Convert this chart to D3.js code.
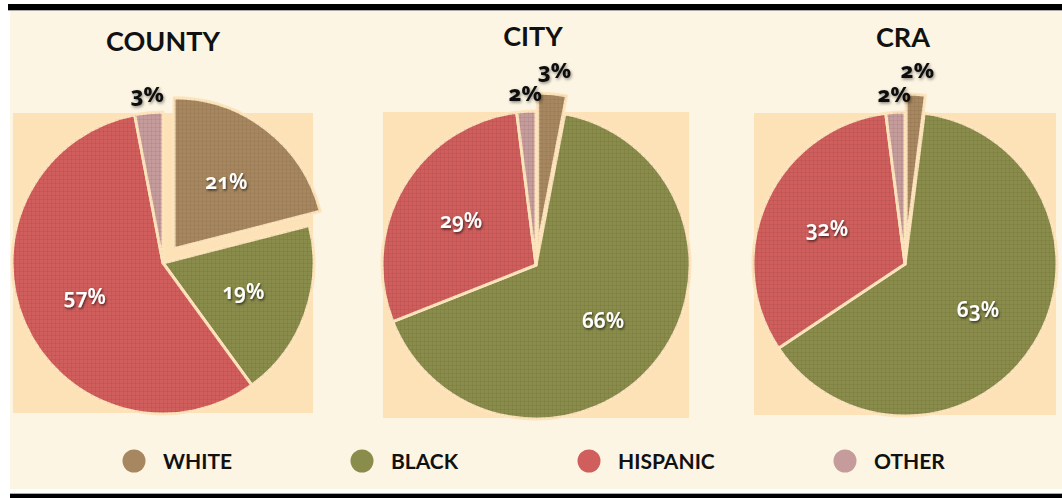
<!DOCTYPE html>
<html>
<head>
<meta charset="utf-8">
<script src="https://cdn.jsdelivr.net/npm/d3@7"></script>
<style>
  body { margin: 0; background: #fff; }
  svg { display: block; }
  .num { font-family: "Noto Sans", "Open Sans", sans-serif; font-variant-numeric: oldstyle-nums; font-feature-settings: "onum"; }
</style>
</head>
<body>
<div id="chart"></div>
<script>
// data
var groups = ["COUNTY", "CITY", "CRA"];
var categories = ["WHITE", "BLACK", "HISPANIC", "OTHER"];
var countyValues = [21, 19, 57, 3];
var cityValues = [3, 66, 29, 2];
var craValues = [2, 63, 32, 2];
var colors = ["#A7875F", "#8A8C4B", "#CF5E5C", "#C59B9B"];

var width = 1062, height = 498;

// layout of each pie
var pies = [
	{ title: groups[0], values: countyValues, cx: 163, cy: 263, r: 151, titleX: 163, titleY: 51 },
	{ title: groups[1], values: cityValues,   cx: 536, cy: 265, r: 154, titleX: 533, titleY: 46 },
	{ title: groups[2], values: craValues,    cx: 905, cy: 264, r: 152, titleX: 903, titleY: 47 }
];
var explode = 18;

var svg = d3.select("#chart").append("svg").attr("width", width).attr("height", height);
var defs = svg.append("defs");

var shadow = defs.append("filter").attr("id", "shadow")
	.attr("x", "-30%").attr("y", "-30%").attr("width", "160%").attr("height", "160%");
shadow.append("feDropShadow").attr("dx", 1).attr("dy", 1.5).attr("stdDeviation", 1.2)
	.attr("flood-color", "#000").attr("flood-opacity", 0.65);

var shadowOut = defs.append("filter").attr("id", "shadowOut")
	.attr("x", "-30%").attr("y", "-30%").attr("width", "160%").attr("height", "160%");
shadowOut.append("feDropShadow").attr("dx", 1).attr("dy", 1.5).attr("stdDeviation", 1.5)
	.attr("flood-color", "#000").attr("flood-opacity", 0.45);

// faint woven texture on the slices
var pat = defs.append("pattern").attr("id", "weave")
	.attr("width", 4).attr("height", 4).attr("patternUnits", "userSpaceOnUse");
pat.append("rect").attr("width", 4).attr("height", 1).attr("fill", "#000").attr("opacity", 0.05);
pat.append("rect").attr("width", 1).attr("height", 4).attr("fill", "#000").attr("opacity", 0.05);

// frame
svg.append("rect").attr("x", 8).attr("y", 4).attr("width", width - 8).attr("height", 6).attr("fill", "#000");
svg.append("rect").attr("x", 8).attr("y", 10).attr("width", width - 8).attr("height", 1).attr("fill", "#aaa");
svg.append("rect").attr("x", 10).attr("y", 11).attr("width", width - 10).attr("height", 478).attr("fill", "#FDF5E3");
svg.append("rect").attr("x", 10).attr("y", 493).attr("width", width - 10).attr("height", 1).attr("fill", "#aaa");
svg.append("rect").attr("x", 10).attr("y", 494).attr("width", width - 10).attr("height", 4).attr("fill", "#000");

var pie = d3.pie().sort(null).value(function(d) { return d; });

pies.forEach(function(p) {
	var g = svg.append("g").attr("transform", "translate(" + p.cx + "," + p.cy + ")");
	var half = p.r - 1;

	// plot area
	g.append("rect").attr("x", -half).attr("y", -half)
		.attr("width", half * 2).attr("height", half * 2)
		.attr("fill", "#FDE2B7");

	var arc = d3.arc().innerRadius(0).outerRadius(p.r);
	var arcs = pie(p.values);

	function offset(d, dist) {
		var a = (d.startAngle + d.endAngle) / 2;
		return [Math.sin(a) * dist, -Math.cos(a) * dist];
	}

	var slices = g.selectAll("g.slice").data(arcs).enter().append("g")
		.attr("class", "slice")
		.attr("transform", function(d, i) {
			var o = i === 0 ? offset(d, explode) : [0, 0];
			return "translate(" + o[0] + "," + o[1] + ")";
		});

	slices.append("path")
		.attr("d", arc)
		.attr("fill", function(d, i) { return colors[i]; })
		.attr("stroke", "#FDE4BD")
		.attr("stroke-width", 3)
		.attr("stroke-linejoin", "round");
	slices.append("path")
		.attr("d", arc)
		.attr("fill", "url(#weave)");

	// labels: big slices inside, small ones outside
	g.selectAll("text.lbl").data(arcs).enter().append("text")
		.attr("class", "lbl num")
		.attr("transform", function(d, i) {
			var inside = d.data >= 10;
			var dist = inside ? p.r * 0.565 : p.r + 18;
			if (i === 0) dist += inside ? explode : explode + 6;
			var o = offset(d, dist);
			return "translate(" + o[0] + "," + o[1] + ")";
		})
		.attr("text-anchor", "middle")
		.attr("dy", "0.35em")
		.attr("font-size", function(d) { return d.data >= 10 ? 21 : 22; })
		.attr("font-weight", function(d) { return d.data >= 10 ? 600 : 800; })
		.attr("fill", function(d) { return d.data >= 10 ? "#fff" : "#111"; })
		.attr("filter", function(d) { return d.data >= 10 ? "url(#shadow)" : "url(#shadowOut)"; })
		.text(function(d) { return d.data + "%"; });

	// title
	svg.append("text")
		.attr("x", p.titleX).attr("y", p.titleY)
		.attr("text-anchor", "middle")
		.attr("font-family", "Lato, 'Open Sans', sans-serif")
		.attr("font-weight", 700)
		.attr("font-size", 27)
		.attr("fill", "#111")
		.text(p.title);
});

// legend
var legendX = [134, 362, 589, 845];
var legend = svg.selectAll("g.legend").data(categories).enter().append("g")
	.attr("class", "legend")
	.attr("transform", function(d, i) { return "translate(" + legendX[i] + ",461)"; });
legend.append("circle").attr("r", 11.5).attr("fill", function(d, i) { return colors[i]; });
legend.append("text")
	.attr("x", 29).attr("dy", "0.36em")
	.attr("font-family", "Lato, 'Open Sans', sans-serif")
	.attr("font-weight", 700)
	.attr("font-size", 21)
	.attr("fill", "#111")
	.text(function(d) { return d; });
</script>
</body>
</html>
